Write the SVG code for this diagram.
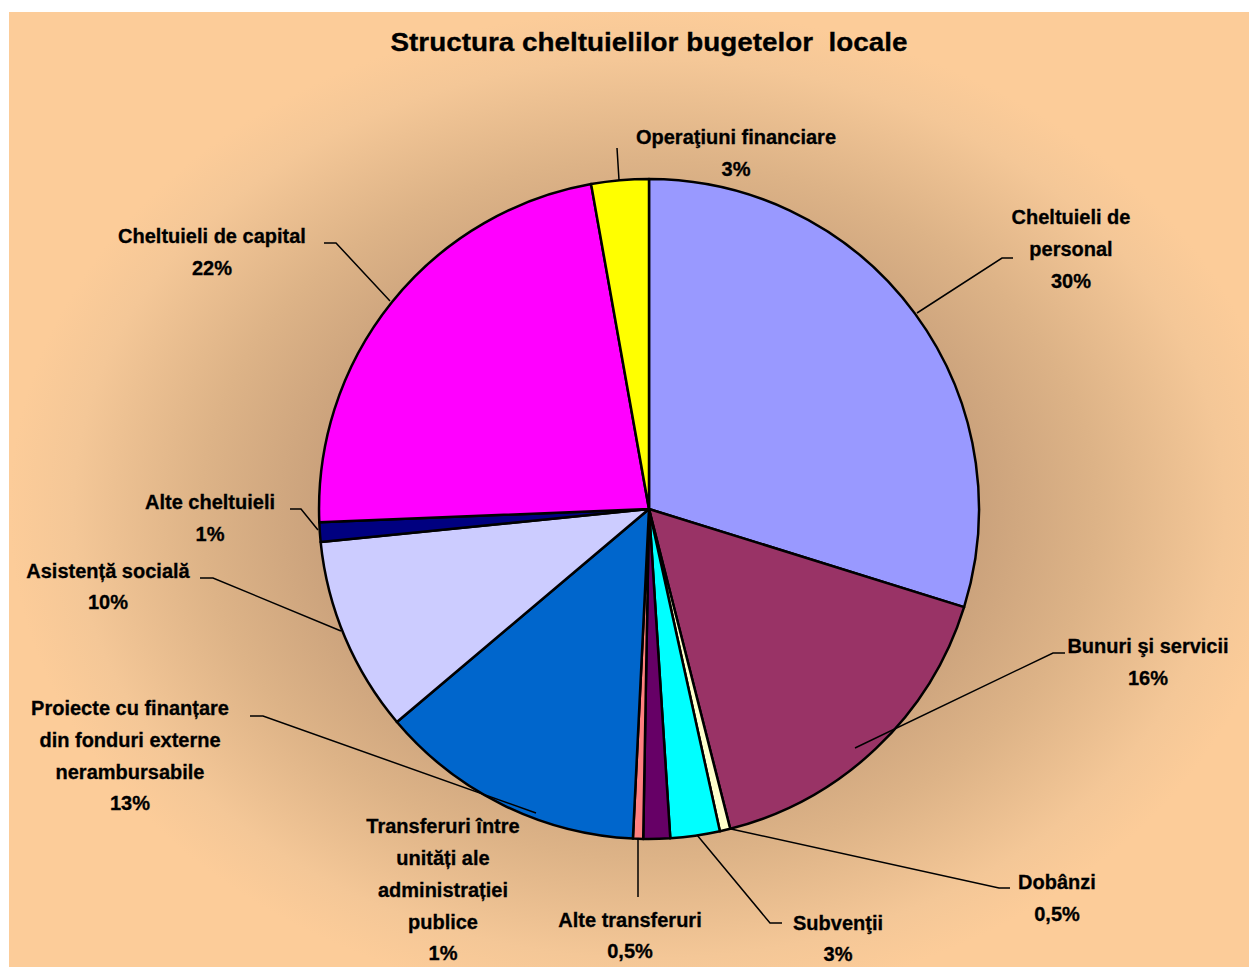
<svg xmlns="http://www.w3.org/2000/svg" width="1249" height="967" viewBox="0 0 1249 967">
<defs>
<radialGradient id="bg" gradientUnits="userSpaceOnUse" cx="649" cy="509" r="640" gradientTransform="translate(649 509) scale(1 0.78) translate(-649 -509)">
<stop offset="0" stop-color="#A8805E"/>
<stop offset="0.45" stop-color="#C49C78"/>
<stop offset="0.7" stop-color="#DDB387"/>
<stop offset="0.9" stop-color="#F4C797"/>
<stop offset="1" stop-color="#FCCC99"/>
</radialGradient>
<style>
.s{stroke:#000;stroke-width:2.5;stroke-linejoin:round}
.t{font-family:"Liberation Sans",Arial,sans-serif;font-weight:bold;font-size:20px;fill:#000;text-anchor:middle;stroke:#000;stroke-width:0.3}
.l{fill:none;stroke:#000;stroke-width:1.5}
</style>
</defs>
<rect x="0" y="0" width="1249" height="967" fill="#FFFFFF"/>
<rect x="9" y="12" width="1240" height="955" fill="url(#bg)"/>
<text class="t" x="649" y="51" style="font-size:25px;white-space:pre" textLength="517" lengthAdjust="spacingAndGlyphs">Structura cheltuielilor bugetelor  locale</text>
<g id="pie">
<path id="personal" class="s" fill="#9999FF" d="M649,509 L649,179 A330,330 0 0 1 964.1,607.1 Z"/>
<path id="bunuri" class="s" fill="#993366" d="M649,509 L964.1,607.1 A330,330 0 0 1 730.2,828.8 Z"/>
<path id="dobanzi" class="s" fill="#FFFFCC" d="M649,509 L730.2,828.8 A330,330 0 0 1 719.9,831.3 Z"/>
<path id="subventii" class="s" fill="#00FFFF" d="M649,509 L719.9,831.3 A330,330 0 0 1 670.3,838.3 Z"/>
<path id="transferuri-unitati" class="s" fill="#660066" d="M649,509 L670.3,838.3 A330,330 0 0 1 643.2,839 Z"/>
<path id="alte-transferuri" class="s" fill="#FF8080" d="M649,509 L643.2,839 A330,330 0 0 1 632.9,838.6 Z"/>
<path id="proiecte" class="s" fill="#0066CC" d="M649,509 L632.9,838.6 A330,330 0 0 1 396.9,722 Z"/>
<path id="asistenta" class="s" fill="#CCCCFF" d="M649,509 L396.9,722 A330,330 0 0 1 320.65,542.1 Z"/>
<path id="alte-cheltuieli" class="s" fill="#000080" d="M649,509 L320.65,542.1 A330,330 0 0 1 319.3,522.2 Z"/>
<path id="capital" class="s" fill="#FF00FF" d="M649,509 L319.3,522.2 A330,330 0 0 1 591.1,184.1 Z"/>
<path id="operatiuni" class="s" fill="#FFFF00" d="M649,509 L591.1,184.1 A330,330 0 0 1 649,179 Z"/>
</g>
<g id="connectors">
<polyline class="l" points="617,148 619,180"/>
<polyline class="l" points="1013,258 1002,258 917,313"/>
<polyline class="l" points="1065,653 1053,653 855,748"/>
<polyline class="l" points="1010,888 999,888 731,829"/>
<polyline class="l" points="782,923 770,923 697,835"/>
<polyline class="l" points="638,838 638,897"/>
<polyline class="l" points="250,716 263,716 536,813"/>
<polyline class="l" points="200,578 213,578 341,631"/>
<polyline class="l" points="290,509 301,509 318,530"/>
<polyline class="l" points="324,243 336,243 390,301"/>
</g>
<g id="labels">
<g id="lbl-operatiuni"><text class="t" x="736" y="144">Operaţiuni financiare</text><text class="t" x="736" y="176">3%</text></g>
<g id="lbl-personal"><text class="t" x="1071" y="224">Cheltuieli de</text><text class="t" x="1071" y="256">personal</text><text class="t" x="1071" y="288">30%</text></g>
<g id="lbl-bunuri"><text class="t" x="1148" y="653">Bunuri şi servicii</text><text class="t" x="1148" y="685">16%</text></g>
<g id="lbl-dobanzi"><text class="t" x="1057" y="889">Dobânzi</text><text class="t" x="1057" y="921">0,5%</text></g>
<g id="lbl-subventii"><text class="t" x="838" y="930">Subvenţii</text><text class="t" x="838" y="961">3%</text></g>
<g id="lbl-alte-transferuri"><text class="t" x="630" y="927">Alte transferuri</text><text class="t" x="630" y="958">0,5%</text></g>
<g id="lbl-transferuri"><text class="t" x="443" y="833">Transferuri între</text><text class="t" x="443" y="865">unități ale</text><text class="t" x="443" y="897">administrației</text><text class="t" x="443" y="929">publice</text><text class="t" x="443" y="960">1%</text></g>
<g id="lbl-proiecte"><text class="t" x="130" y="715">Proiecte cu finanțare</text><text class="t" x="130" y="747">din fonduri externe</text><text class="t" x="130" y="779">nerambursabile</text><text class="t" x="130" y="810">13%</text></g>
<g id="lbl-asistenta"><text class="t" x="108" y="578">Asistență socială</text><text class="t" x="108" y="609">10%</text></g>
<g id="lbl-alte-cheltuieli"><text class="t" x="210" y="509">Alte cheltuieli</text><text class="t" x="210" y="541">1%</text></g>
<g id="lbl-capital"><text class="t" x="212" y="243">Cheltuieli de capital</text><text class="t" x="212" y="275">22%</text></g>
</g>
</svg>
